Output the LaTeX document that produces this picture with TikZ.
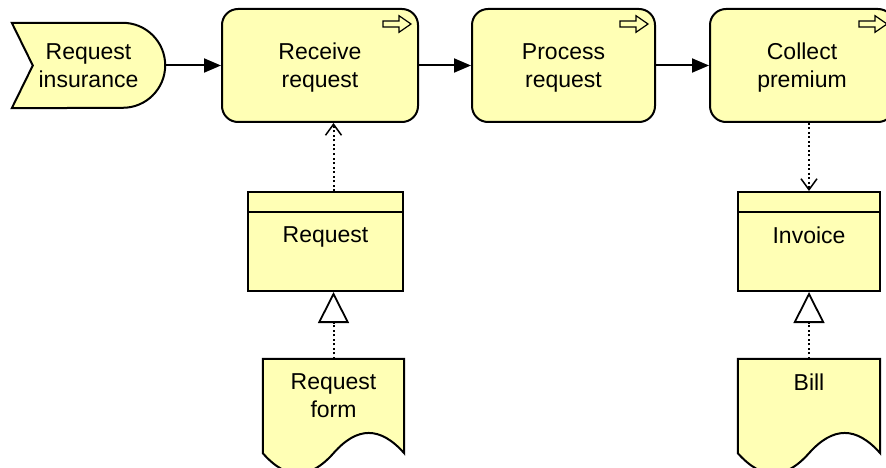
\documentclass[tikz,border=0pt]{standalone}
\usepackage{fontspec}
\setmainfont{Liberation Sans}
\usetikzlibrary{arrows.meta,backgrounds}
\definecolor{biz}{RGB}{255,255,181}
\begin{document}
\begin{tikzpicture}[x=1pt,y=1pt,
  lbl/.style={font=\fontsize{23}{28}\selectfont, align=center, inner sep=0pt, text depth=0pt},
  shp/.style={draw=black, fill=biz, line width=2pt},
  procbox/.style={shp, lbl, rounded corners=16pt, minimum height=113pt},
  objbox/.style={shp, minimum width=#1, minimum height=99pt, inner sep=0pt},
  repframe/.style={inner sep=0pt, minimum width=#1, minimum height=94pt},
  trig/.style={line width=2pt, -{Triangle[length=17pt,width=14pt]}},
  acc/.style={line width=2pt, dash pattern=on 2pt off 2.5pt, -{Straight Barb[length=11pt,width=16pt,line width=1.5pt]}},
  real/.style={line width=2pt, dash pattern=on 2pt off 2.5pt, -{Triangle[open,fill=white,length=31pt,width=31pt,line width=1.8pt]}},
  procicon/.pic={\draw[line width=1.2pt, fill=biz] (0,3) -- (16,3) -- (16,8.3) -- (28,0) -- (16,-8.3) -- (16,-3) -- (0,-3) -- cycle;}
]
\useasboundingbox (0,0) rectangle (886,-468);
\clip (0,0) rectangle (886,-468);

% event
\node[lbl, minimum width=153pt, minimum height=85pt] (ev) at (88.5,-65.5) {Request\\insurance};
\begin{scope}[on background layer]
  \fill[white] (0,0) rectangle (886,-468);
  \draw[shp] (ev.north west) -- ([xshift=-42.5pt]ev.north east)
    arc[start angle=90,end angle=-90,radius=42.5pt]
    -- (ev.south west) -- ([xshift=21pt]ev.west) -- cycle;
\end{scope}

% processes
\node[procbox, minimum width=196pt] (rr) at (320,-65.5) {Receive\\request};
\node[procbox, minimum width=183pt] (pr) at (563.5,-65.5) {Process\\request};
\node[procbox, minimum width=184pt] (cp) at (802,-65.5) {Collect\\premium};
\pic at ([shift={(-36,-16)}]rr.north east) {procicon};
\pic at ([shift={(-36,-16)}]pr.north east) {procicon};
\pic at ([shift={(-36,-16)}]cp.north east) {procicon};

% business objects
\node[objbox=155pt] (reqobj) at (325.5,-241.5) {};
\draw[line width=2pt] ([yshift=-21pt]reqobj.north west) -- ([yshift=-21pt]reqobj.north east);
\node[lbl, anchor=north] (reqobjtxt) at ([yshift=-35.5pt]reqobj.north) {Request};
\node[objbox=142pt] (inv) at (809,-241.5) {};
\draw[line width=2pt] ([yshift=-21pt]inv.north west) -- ([yshift=-21pt]inv.north east);
\node[lbl, anchor=north] (invtxt) at ([yshift=-35.5pt]inv.north) {Invoice};

% representations
\node[repframe=141pt] (reqform) at (333.5,-406) {};
\draw[shp] (reqform.north west) -- (reqform.north east) -- (reqform.south east)
  .. controls ([shift={(-24,27)}]reqform.south east) and ([shift={(-47,27)}]reqform.south east) .. (reqform.south)
  .. controls ([shift={(-24,-27)}]reqform.south) and ([shift={(-47,-27)}]reqform.south) .. (reqform.south west) -- cycle;
\node[lbl, anchor=north] (reqformtxt) at ([yshift=-14.5pt]reqform.north) {Request\\form};
\node[repframe=142pt] (bill) at (809,-406) {};
\draw[shp] (bill.north west) -- (bill.north east) -- (bill.south east)
  .. controls ([shift={(-24,27)}]bill.south east) and ([shift={(-47,27)}]bill.south east) .. (bill.south)
  .. controls ([shift={(-24,-27)}]bill.south) and ([shift={(-47,-27)}]bill.south) .. (bill.south west) -- cycle;
\node[lbl, anchor=north] (billtxt) at ([yshift=-14.5pt]bill.north) {Bill};

% connectors
\draw[trig] (ev) -- (rr);
\draw[trig] (rr) -- (pr);
\draw[trig] (pr) -- (cp);
\draw[acc] (reqform.north |- reqobj.north) -- (reqform.north |- rr.south);
\draw[acc] (bill.north |- cp.south) -- (bill.north |- inv.north);
\draw[real] (reqform.north) -- (reqform.north |- reqobj.south);
\draw[real] (bill.north) -- (inv.south);
\end{tikzpicture}
\end{document}
